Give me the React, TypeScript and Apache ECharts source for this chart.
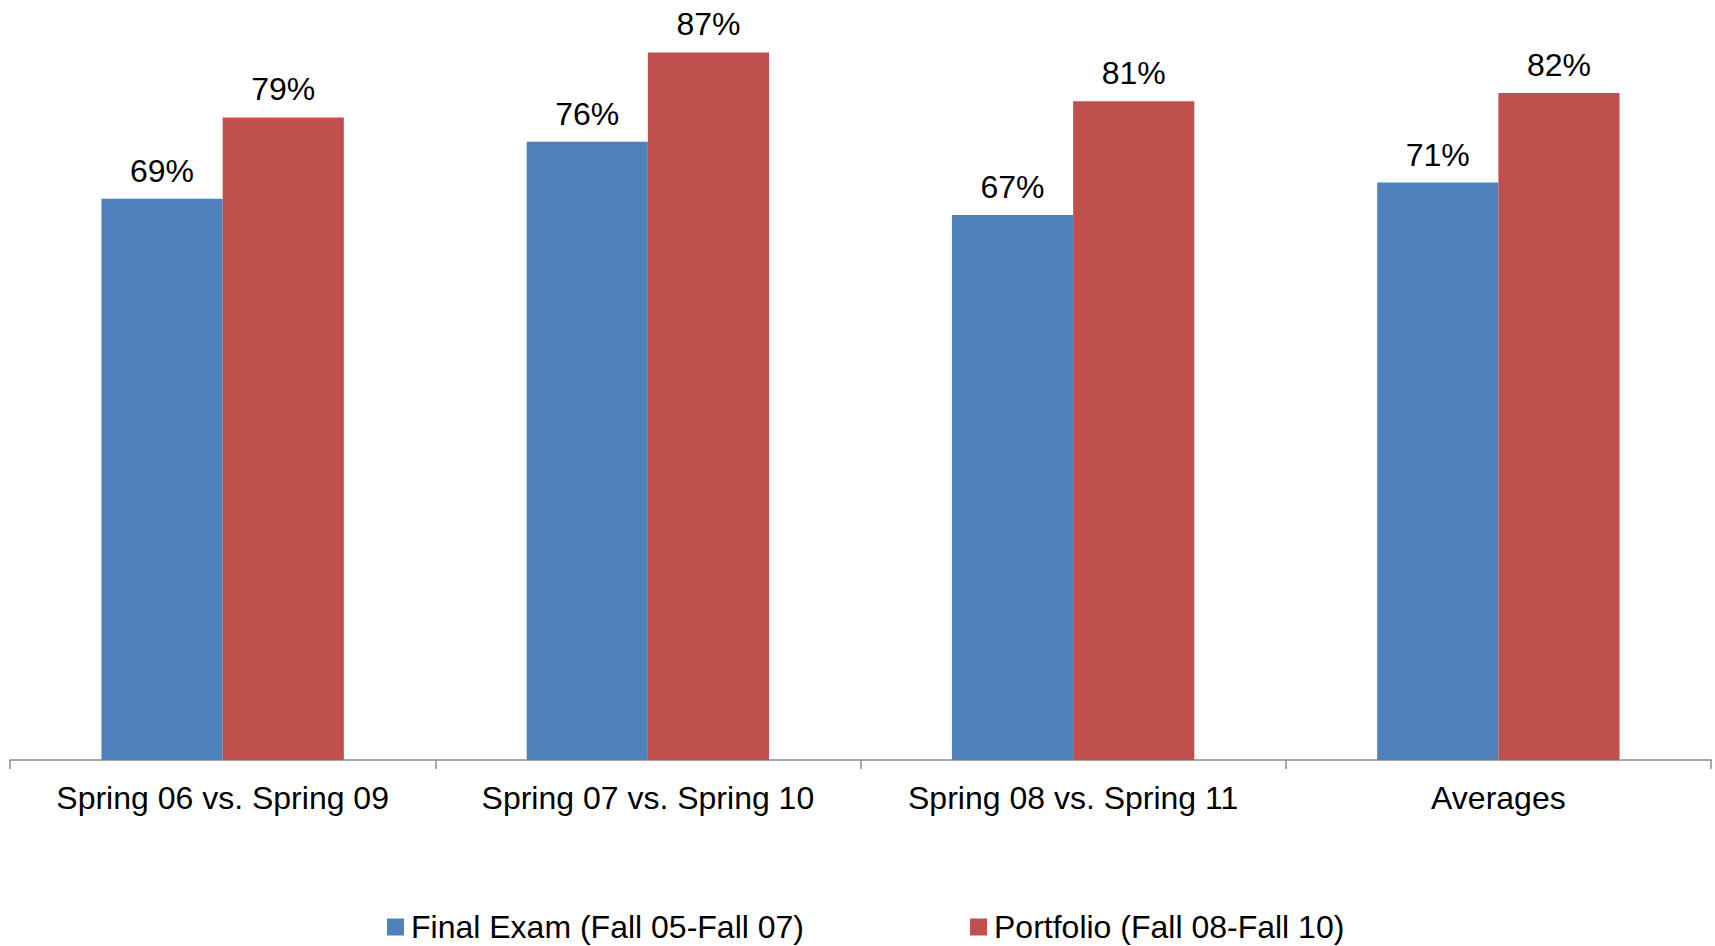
import React, { useEffect, useRef } from "react";
import * as echarts from "echarts";

const categories = [
  "Spring 06 vs. Spring 09",
  "Spring 07 vs. Spring 10",
  "Spring 08 vs. Spring 11",
  "Averages",
];
const finalExam = [69, 76, 67, 71];
const portfolio = [79, 87, 81, 82];
const seriesNames = ["Final Exam (Fall 05-Fall 07)", "Portfolio (Fall 08-Fall 10)"];

const FONT = "'Liberation Sans', Arial, sans-serif";

export default function App() {
  const ref = useRef<HTMLDivElement>(null);
  useEffect(() => {
    if (!ref.current) return;
    const chart = echarts.init(ref.current, null, { renderer: "svg" });
    const label = {
      show: true,
      position: "top",
      distance: 12,
      fontSize: 32,
      color: "#000",
      fontFamily: FONT,
      formatter: (p: any) => `${p.value}%`,
    };
    const legendText = { fontSize: 32, color: "#000", fontFamily: FONT, padding: [0, 0, 0, 2] };
    chart.setOption({
      animation: false,
      textStyle: { fontFamily: FONT },
      grid: { left: 10, right: 4, top: 28, bottom: 186, containLabel: false },
      legend: [
        {
          data: [seriesNames[0]],
          left: 387,
          top: 911,
          padding: 0,
          itemWidth: 17,
          itemHeight: 17,
          itemGap: 0,
          icon: "rect",
          textStyle: legendText,
        },
        {
          data: [seriesNames[1]],
          left: 970,
          top: 911,
          padding: 0,
          itemWidth: 17,
          itemHeight: 17,
          itemGap: 0,
          icon: "rect",
          textStyle: legendText,
        },
      ],
      xAxis: {
        type: "category",
        data: categories,
        boundaryGap: true,
        axisLine: { lineStyle: { color: "#8c8c8c", width: 1.5 } },
        axisTick: { show: true, length: 9, lineStyle: { color: "#8c8c8c", width: 1.5 } },
        axisLabel: { fontSize: 32, color: "#000", fontFamily: FONT, margin: 22, interval: 0 },
      },
      yAxis: {
        type: "value",
        min: 0,
        max: 90,
        show: false,
        splitLine: { show: false },
      },
      series: [
        {
          name: seriesNames[0],
          type: "bar",
          data: finalExam,
          itemStyle: { color: "#4F81BD" },
          barGap: "0%",
          barCategoryGap: "43%",
          label,
        },
        {
          name: seriesNames[1],
          type: "bar",
          data: portfolio,
          itemStyle: { color: "#C0504D" },
          barGap: "0%",
          barCategoryGap: "43%",
          label,
        },
      ],
    });
    return () => chart.dispose();
  }, []);
  return (
    <div
      ref={ref}
      style={{ position: "fixed", left: 0, top: 0, width: 1715, height: 946, background: "#fff" }}
    />
  );
}
